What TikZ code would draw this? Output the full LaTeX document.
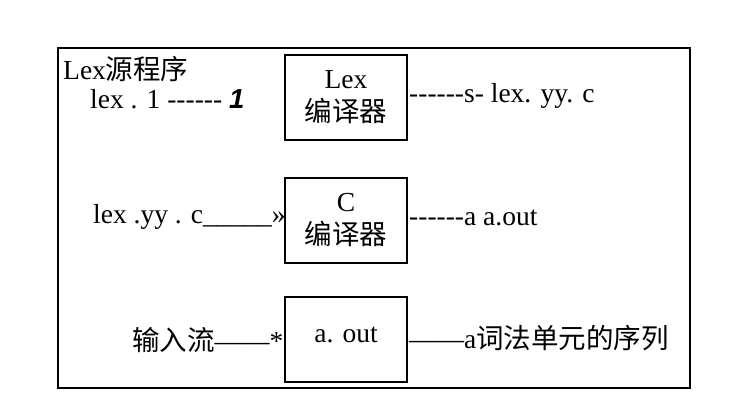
\documentclass[tikz,border=0pt]{standalone}
\usepackage{fontspec}
\setmainfont{Liberation Serif}
\newfontfamily\cjk{Noto Sans CJK SC}
\newfontfamily\numfont{Liberation Sans}

\tikzset{
  txt/.style={anchor=base west, inner sep=0, font=\fontsize{27.5}{33}\selectfont},
  cbox/.style={draw, line width=2pt, minimum width=122, minimum height=85, inner sep=0, align=center, font=\fontsize{27.5}{33}\selectfont}
}

\begin{document}
\begin{tikzpicture} [x=1pt,y=-1pt]
\useasboundingbox (0,0) rectangle (742,416);

\draw[line width=1.5pt] (58,48) rectangle (690,388);

% compilers
\node[cbox] (lexc) at (346,97.5) {Lex\\{\cjk 编译器}};
\node[cbox] (cc) at (346,220) {C\\{\cjk 编译器}};
\node[cbox, text depth=9] (aout) at (346,339.5) {a. out};

% inputs
\node[txt] (src) at (63,79) {Lex{\cjk 源程序}};
\node[txt] (lexl) at (90,108) {lex . 1 -{}-{}-{}-{}-{}- {\numfont\bfseries\itshape 1}};
\node[txt] (lexyy) at (93,223) {lex .yy . c\_\_\_\_\_»};
\node[txt] (instream) at (132,350) {{\cjk 输入流}——*};

% outputs
\node[txt] (outlex) at (409,102) {-{}-{}-{}-{}-{}-s- lex. yy. c};
\node[txt] (outc) at (409,225) {-{}-{}-{}-{}-{}-a a.out};
\node[txt] (outtok) at (409,348) {——a{\cjk 词法单元的序列}};

\end{tikzpicture}
\end{document}
